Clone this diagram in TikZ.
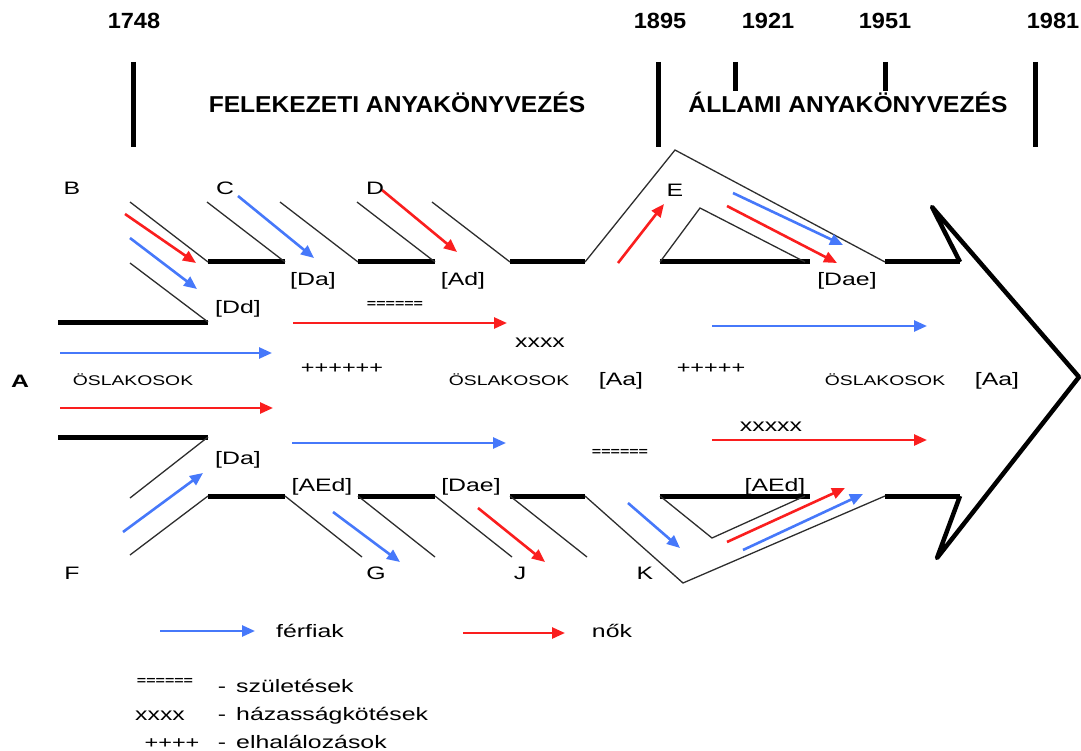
\documentclass[tikz,border=0pt]{standalone}
\usepackage{fontspec}
\setmainfont{Liberation Sans}
\newfontfamily\lblfont[FakeStretch=1.38]{Liberation Sans}
\newfontfamily\ttlfont[FakeStretch=1.07]{Liberation Sans}
\usetikzlibrary{arrows.meta}
\definecolor{mblue}{RGB}{70,120,250}
\definecolor{fred}{RGB}{250,30,30}
\definecolor{gline}{RGB}{45,45,45}
\begin{document}
\begin{tikzpicture}[x=1pt,y=-1pt,
  seg/.style={line width=5pt},
  bar/.style={line width=5pt},
  diag/.style={line width=1.3pt, draw=gline},
  ma/.style={draw=mblue, line width=2.6pt, -{Triangle[length=13pt,width=11pt]}},
  fa/.style={draw=fred, line width=2.6pt, -{Triangle[length=13pt,width=11pt]}},
  yr/.style={font=\ttlfont\bfseries\fontsize{22}{24}\selectfont, anchor=base, inner sep=0},
  ttl/.style={font=\ttlfont\bfseries\fontsize{23}{25}\selectfont, anchor=base, inner sep=0},
  lab/.style={font=\lblfont\fontsize{18}{20}\selectfont, anchor=base, inner sep=0},
  osl/.style={font=\lblfont\fontsize{14}{16}\selectfont, anchor=base, inner sep=0},
  eqs/.style={font=\lblfont\bfseries\fontsize{11.6}{13}\selectfont, anchor=base, inner sep=0},
  pls/.style={font=\lblfont\fontsize{17}{19}\selectfont, anchor=base, inner sep=0}]
\useasboundingbox (0,0) rectangle (1081,751);

% ---- time axis ----
\node[yr] (y1748) at (134,29) {1748};
\node[yr] (y1895) at (660,29) {1895};
\node[yr] (y1921) at (768,29) {1921};
\node[yr] (y1951) at (885,29) {1951};
\node[yr] (y1981) at (1053,29) {1981};
\draw[bar] (133,62) -- (133,147);
\draw[bar] (658,62) -- (658,147);
\draw[bar] (735,62) -- (735,91);
\draw[bar] (885,62) -- (885,91);
\draw[bar] (1035,62) -- (1035,147);
\node[ttl] (t1) at (397,113) {FELEKEZETI ANYAKÖNYVEZÉS};
\node[ttl] (t2) at (848,113) {ÁLLAMI ANYAKÖNYVEZÉS};

% ---- outline ----
\draw[seg] (58,322) -- (208,322);
\draw[seg] (58,437) -- (208,437);
\foreach \a/\b in {208/285,358/435,510/585,660/810,885/960}{
  \draw[seg] (\a,262) -- (\b,262);
  \draw[seg] (\a,496) -- (\b,496);
}
\foreach \e in {208,285,358,435,510}{
  \draw[diag] ({\e-78},202) -- (\e,262);
}
\draw[diag] (130,263) -- (208,322);
\draw[diag] (585,262) -- (675,150) -- (885,262);
\draw[diag] (660,262) -- (700,208) -- (805,262);
\draw[diag] (208,437) -- (130,498);
\draw[diag] (208,496) -- (130,555);
\foreach \e in {285,358,435,510}{
  \draw[diag] (\e,496) -- ({\e+77},557);
}
\draw[diag] (585,496) -- (683,583) -- (885,496);
\draw[diag] (660,496) -- (712,538) -- (805,496);
\draw[line width=4.5pt, line join=round] (960,262) -- (932,207) -- (1079,377) -- (937,558) -- (960,496);

% ---- arrows ----
\coordinate (bRs) at (125,214); \coordinate (bRe) at (196,263);
\coordinate (bBs) at (130,238); \coordinate (bBe) at (197,289);
\coordinate (cBs) at (238,196); \coordinate (cBe) at (314,258);
\coordinate (dRs) at (382,190); \coordinate (dRe) at (457,252);
\coordinate (eRs) at (618,263); \coordinate (eRe) at (664,204);
\coordinate (uBs) at (733,193); \coordinate (uBe) at (843,245);
\coordinate (uRs) at (727,206); \coordinate (uRe) at (837,263);
\coordinate (m1s) at (293,323); \coordinate (m1e) at (507,323);
\coordinate (m2s) at (60,353);  \coordinate (m2e) at (272,353);
\coordinate (m3s) at (60,408);  \coordinate (m3e) at (273,408);
\coordinate (m4s) at (292,443); \coordinate (m4e) at (506,443);
\coordinate (m5s) at (712,326); \coordinate (m5e) at (927,326);
\coordinate (m6s) at (712,440); \coordinate (m6e) at (927,440);
\coordinate (fBs) at (123,532); \coordinate (fBe) at (203,473);
\coordinate (gBs) at (333,512); \coordinate (gBe) at (400,562);
\coordinate (jRs) at (478,508); \coordinate (jRe) at (545,562);
\coordinate (kBs) at (628,503); \coordinate (kBe) at (680,548);
\coordinate (lRs) at (727,542); \coordinate (lRe) at (845,488);
\coordinate (lBs) at (743,550); \coordinate (lBe) at (863,494);
\draw[fa] (bRs) -- (bRe);
\draw[ma] (bBs) -- (bBe);
\draw[ma] (cBs) -- (cBe);
\draw[fa] (dRs) -- (dRe);
\draw[fa] (eRs) -- (eRe);
\draw[ma] (uBs) -- (uBe);
\draw[fa] (uRs) -- (uRe);
\draw[fa] (m1s) -- (m1e);
\draw[ma] (m2s) -- (m2e);
\draw[fa] (m3s) -- (m3e);
\draw[ma] (m4s) -- (m4e);
\draw[ma] (m5s) -- (m5e);
\draw[fa] (m6s) -- (m6e);
\draw[ma] (fBs) -- (fBe);
\draw[ma] (gBs) -- (gBe);
\draw[fa] (jRs) -- (jRe);
\draw[ma] (kBs) -- (kBe);
\draw[fa] (lRs) -- (lRe);
\draw[ma] (lBs) -- (lBe);

% ---- letters ----
\node[lab] (nB) at (72,195) {B};
\node[lab] (nC) at (225,195) {C};
\node[lab] (nD) at (375,195) {D};
\node[lab] (nE) at (675,197) {E};
\node[lab] (nF) at (72,579) {F};
\node[lab] (nG) at (376,579) {G};
\node[lab] (nJ) at (520,579) {J};
\node[lab] (nK) at (645,579) {K};
\node[lab,font=\lblfont\bfseries\fontsize{18}{20}\selectfont] (nA) at (20,387) {A};

% ---- labels ----
\node[lab] (lDd) at (238,313) {[Dd]};
\node[lab] (lDa1) at (313,286) {[Da]};
\node[lab] (lAd) at (463,286) {[Ad]};
\node[lab] (lDae1) at (847,286) {[Dae]};
\node[lab] (lAa1) at (621,385) {[Aa]};
\node[lab] (lAa2) at (997,385) {[Aa]};
\node[lab] (lDa2) at (238,464) {[Da]};
\node[lab] (lAEd1) at (322,491) {[AEd]};
\node[lab] (lDae2) at (471,491) {[Dae]};
\node[lab] (lAEd2) at (775,491) {[AEd]};
\node[osl] (o1) at (133,385) {ÖSLAKOSOK};
\node[osl] (o2) at (509,385) {ÖSLAKOSOK};
\node[osl] (o3) at (885,385) {ÖSLAKOSOK};
\node[lab] (x1) at (540,347) {xxxx};
\node[lab] (x2) at (771,431) {xxxxx};
\node[pls] (p1) at (342,373) {++++++};
\node[pls] (p2) at (711,373) {+++++};
\node[eqs] (e1) at (395,307) {======};
\node[eqs] (e2) at (620,455) {======};

% ---- legend ----
\coordinate (gBs2) at (160,631); \coordinate (gBe2) at (255,631);
\coordinate (gRs2) at (463,633); \coordinate (gRe2) at (565,633);
\draw[ma] (gBs2) -- (gBe2);
\draw[fa] (gRs2) -- (gRe2);
\node[lab] (lfer) at (310,637) {férfiak};
\node[lab] (lnok) at (612,637) {nők};
\node[eqs] (leq) at (165,684) {======};
\node[lab] (ld1) at (222,692) {-};
\node[lab,anchor=base west] (lszu) at (236,692) {születések};
\node[lab] (lxx) at (160,720) {xxxx};
\node[lab] (ld2) at (222,720) {-};
\node[lab,anchor=base west] (lhaz) at (236,720) {házasságkötések};
\node[pls] (lpl) at (172,748) {++++};
\node[lab] (ld3) at (222,748) {-};
\node[lab,anchor=base west] (lelh) at (236,748) {elhalálozások};
\end{tikzpicture}
\end{document}
